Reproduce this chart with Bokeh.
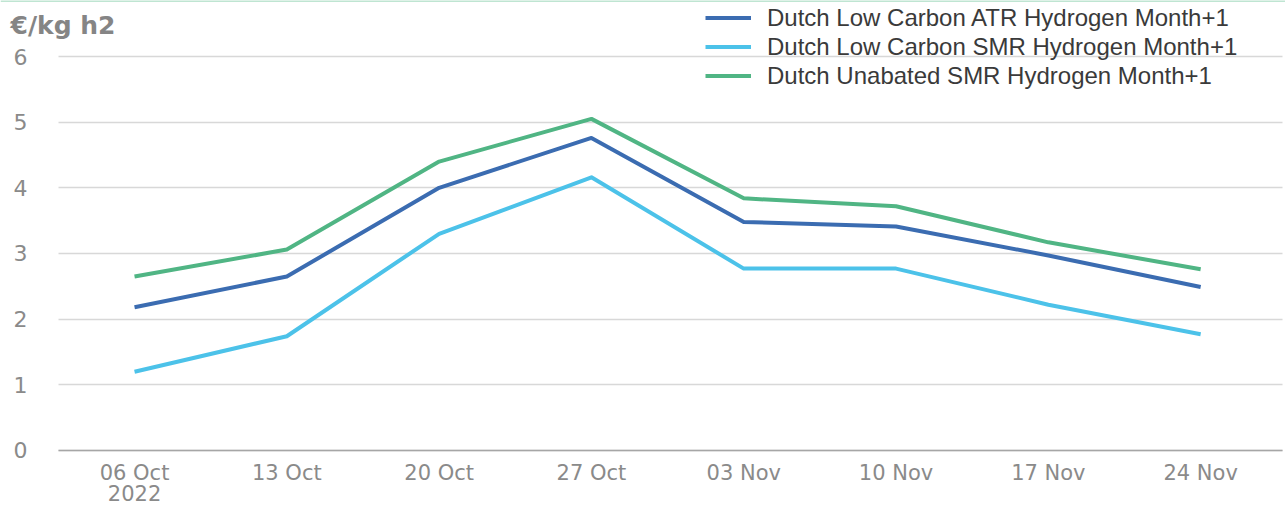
from bokeh.plotting import figure
from bokeh.models import Range1d, Legend, LegendItem, FixedTicker, LinearAxis, Label, Span
from bokeh.embed import file_html
from bokeh.resources import INLINE

# ---- data ----
dates = ["06 Oct", "13 Oct", "20 Oct", "27 Oct", "03 Nov", "10 Nov", "17 Nov", "24 Nov"]
year_label = "2022"
atr_low_carbon = [2.18, 2.65, 4.00, 4.76, 3.48, 3.41, 2.97, 2.49]
smr_low_carbon = [1.20, 1.74, 3.30, 4.16, 2.77, 2.77, 2.22, 1.77]
smr_unabated = [2.65, 3.06, 4.40, 5.05, 3.84, 3.72, 3.17, 2.76]
series_names = [
    "Dutch Low Carbon ATR Hydrogen Month+1",
    "Dutch Low Carbon SMR Hydrogen Month+1",
    "Dutch Unabated SMR Hydrogen Month+1",
]
y_ticks = [0, 1, 2, 3, 4, 5, 6]
unit_label = "€/kg h2"

colors = ["#3b6cb1", "#4cc2e9", "#50b584"]
TICK_FONT = "DejaVu Sans"
LEGEND_FONT = "Liberation Sans"
TICK_COLOR = "#8a8a8a"

x_pos = list(range(len(dates)))
y_top = 6.853

p = figure(
    width=1285, height=505,
    x_range=Range1d(-0.880, 7.557), y_range=Range1d(-0.838, y_top),
    output_backend="svg", toolbar_location=None,
    min_border_left=0, min_border_right=0, min_border_top=0, min_border_bottom=0,
)
p.outline_line_color = None
p.background_fill_color = "white"
p.border_fill_color = "white"

# thin mint rule along the top edge
p.add_layout(Span(location=y_top, dimension="width", line_color="#bfe5d2", line_width=3))

renderers = []
for vals, c in zip([atr_low_carbon, smr_low_carbon, smr_unabated], colors):
    r = p.line(x_pos, vals, line_color=c, line_width=4, line_join="round")
    renderers.append(r)

legend = Legend(
    items=[LegendItem(label=n, renderers=[r]) for n, r in zip(series_names, renderers)],
    location=(705, 415),
    glyph_width=46, glyph_height=29, label_height=29, label_standoff=16, spacing=0,
    padding=0, margin=0,
    background_fill_alpha=0, border_line_alpha=0,
    label_text_font=LEGEND_FONT, label_text_font_size="24px", label_text_color="#3a3a3a",
)
p.add_layout(legend)

# unit label, top-left
p.add_layout(Label(
    x=10, y=480, x_units="screen", y_units="screen", text=unit_label,
    text_font=TICK_FONT, text_font_size="25px", text_font_style="bold",
    text_color="#858585", text_baseline="alphabetic",
))

p.xgrid.grid_line_color = None
p.ygrid.grid_line_color = "#d8d8d8"
p.ygrid.grid_line_width = 1.5
p.ygrid.cross_bounds = (-0.5, 7.54)

p.yaxis.ticker = FixedTicker(ticks=y_ticks)
p.yaxis.fixed_location = -0.5
p.yaxis.axis_line_color = None
p.yaxis.major_tick_line_color = None
p.yaxis.minor_tick_line_color = None
p.yaxis.major_label_standoff = 25
p.yaxis.major_label_text_font = TICK_FONT
p.yaxis.major_label_text_font_size = "22px"
p.yaxis.major_label_text_color = TICK_COLOR

p.xaxis.ticker = FixedTicker(ticks=x_pos)
p.xaxis.major_label_overrides = {i: d for i, d in zip(x_pos, dates)}
p.xaxis.fixed_location = 0
p.xaxis.bounds = (-0.5, 7.54)
p.xaxis.axis_line_color = "#a6a6a6"
p.xaxis.axis_line_width = 1.5
p.xaxis.major_tick_line_color = None
p.xaxis.minor_tick_line_color = None
p.xaxis.major_label_standoff = 5
p.xaxis.major_label_text_font = TICK_FONT
p.xaxis.major_label_text_font_size = "21px"
p.xaxis.major_label_text_color = TICK_COLOR

year_axis = LinearAxis(
    ticker=FixedTicker(ticks=[x_pos[0]]),
    major_label_overrides={x_pos[0]: year_label},
    fixed_location=0,
    axis_line_color=None, major_tick_line_color=None, minor_tick_line_color=None,
    major_label_standoff=29,
    major_label_text_font=TICK_FONT, major_label_text_font_size="21px",
    major_label_text_color=TICK_COLOR,
)
p.add_layout(year_axis, "below")

open("out.html", "w").write(file_html(p, INLINE))
